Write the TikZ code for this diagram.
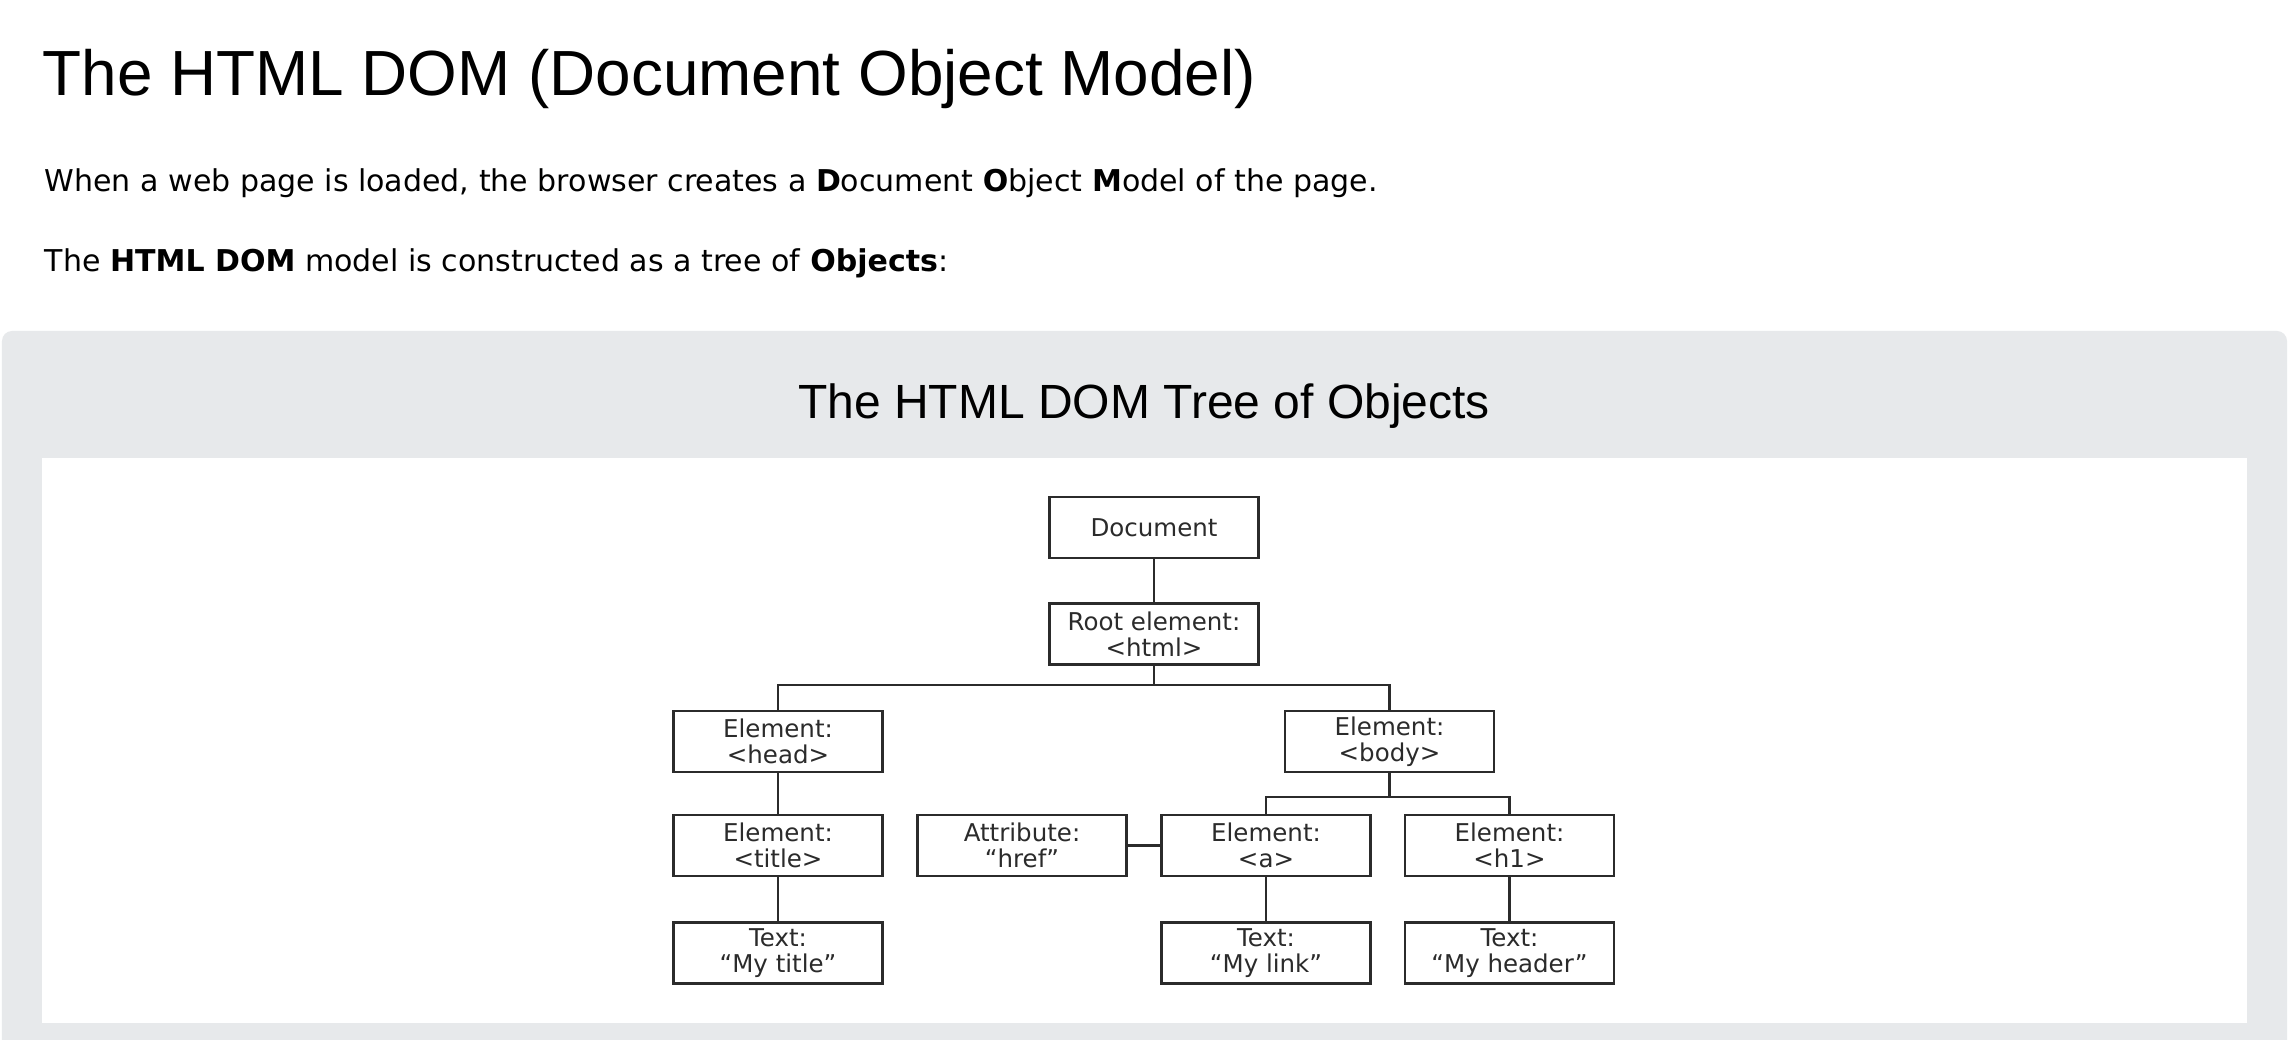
\documentclass[tikz,border=0pt]{standalone}
\usepackage{fontspec}
\setmainfont{DejaVu Sans}
\newfontfamily\headfont{Liberation Sans}
\definecolor{panelgray}{HTML}{E7E9EB}
\definecolor{inkgray}{HTML}{2B2B2B}

\begin{document}
\begin{tikzpicture}[
    x=0.01cm, y=-0.01cm,
    obj/.style={rectangle, draw=inkgray, line width=0.75pt, fill=white, minimum width=2.09cm, minimum height=0.61cm, inner sep=0pt, align=center, text=inkgray, font=\fontsize{6.97pt}{7.4pt}\selectfont},
    link/.style={draw=inkgray, line width=0.75pt},
    para/.style={anchor=base west, inner sep=0pt, font=\fontsize{8.54pt}{10pt}\selectfont}
]
    \useasboundingbox (0,0) rectangle (2296,1040);
    \fill[white] (0,0) rectangle (2296,1040);

    % heading and text
    \node[anchor=base west, inner sep=0pt, font=\headfont\fontsize{18.15pt}{20pt}\selectfont] (heading) at (42,96) {The HTML DOM (Document Object Model)};
    \node[para] (intro) at (44,192) {When a web page is loaded, the browser creates a \textbf{D}ocument \textbf{O}bject \textbf{M}odel of the page.};
    \node[para] (treeline) at (44,272) {The \textbf{HTML DOM} model is constructed as a tree of \textbf{Objects}:};

    % panel
    \fill[panelgray] (2,1040) [rounded corners=0.1cm] -- (2,331) -- (2287,331) [sharp corners] -- (2287,1040) -- cycle;
    \fill[white] (42,458) rectangle (2247,1023);
    \node[anchor=base, inner sep=0pt, font=\headfont\fontsize{13.65pt}{16pt}\selectfont] (paneltitle) at (1144,419) {The HTML DOM Tree of Objects};

    % tree
    \node[obj] (doc) at (1154,527.5) {Document};
    \node[obj] (root) at (1154,634) {Root element:\\<html>};
    \node[obj] (head) at (778,741.5) {Element:\\<head>};
    \node[obj] (body) at (1389.5,741.5) {Element:\\<body>};
    \node[obj] (title) at (778,845.5) {Element:\\<title>};
    \node[obj] (attr) at (1022,845.5) {Attribute:\\“href”};
    \node[obj] (a) at (1266,845.5) {Element:\\<a>};
    \node[obj] (h1) at (1509.5,845.5) {Element:\\<h1>};
    \node[obj] (titletext) at (778,953) {Text:\\“My title”};
    \node[obj] (linktext) at (1266,953) {Text:\\“My link”};
    \node[obj] (headertext) at (1509.5,953) {Text:\\“My header”};

    \coordinate (htmlbus) at (1154,685);
    \coordinate (bodybus) at (1389.5,797);

    \draw[link] (doc) -- (root);
    \draw[link] (root) -- (htmlbus);
    \draw[link] (head.north) |- (htmlbus) -| (body.north);
    \draw[link] (head) -- (title);
    \draw[link] (title) -- (titletext);
    \draw[link] (body) -- (bodybus);
    \draw[link] (a.north) |- (bodybus) -| (h1.north);
    \draw[link] (attr) -- (a);
    \draw[link] (a) -- (linktext);
    \draw[link] (h1) -- (headertext);
\end{tikzpicture}
\end{document}
